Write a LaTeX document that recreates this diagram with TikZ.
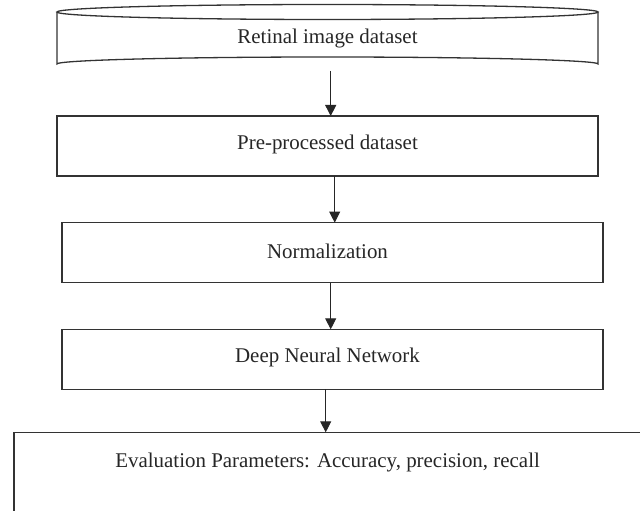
\documentclass[tikz,border=0pt]{standalone}
\usepackage{fontspec}
\setmainfont{Liberation Serif}
\usetikzlibrary{arrows.meta}
\definecolor{edge}{HTML}{333333}
\begin{document}
\begin{tikzpicture}[x=1bp,y=-1bp,
  boxstyle/.style={draw=edge,line width=1.3bp,rectangle,inner sep=0,outer sep=0,fill=white},
  lbl/.style={inner sep=0,outer sep=0,font=\fontsize{21}{25}\selectfont,text=black!85},
  flow/.style={draw=black!85,line width=0.9bp,-{Triangle[width=11bp,length=11bp]}}]
\useasboundingbox (0,0) rectangle (640,511);
\clip (0,0) rectangle (640,511);
\fill[white] (0,0) rectangle (640,511);
% cylinder
\node[inner sep=0,outer sep=0,minimum width=541bp,minimum height=59bp] (c1) at (327.5,41.5) {};
\draw[edge,line width=1.3bp] (57,12) -- (57,64) arc[start angle=180,end angle=0,x radius=270.5bp,y radius=7bp] -- (598,12);
\draw[edge,line width=1.3bp] (327.5,12) ellipse [x radius=270.5bp, y radius=7.5bp];
\node[lbl,anchor=base] (t1) at (327.5,43.3) {Retinal image dataset};
% boxes
\node[boxstyle,minimum width=541bp,minimum height=60bp] (b2) at (327.5,146) {};
\node[lbl] (t2) at (327.5,144.5) {Pre-processed dataset};
\node[boxstyle,minimum width=541bp,minimum height=60bp] (b3) at (332.5,252.6) {};
\node[lbl] (t3) at (327.5,251) {Normalization};
\node[boxstyle,minimum width=541bp,minimum height=60bp] (b4) at (332.5,359.3) {};
\node[lbl] (t4) at (327.5,357.5) {Deep Neural Network};
\node[boxstyle,minimum width=706bp,minimum height=128bp] (b5) at (367,496.3) {};
\node[lbl] (t5) at (327.6,462.5) {Evaluation Parameters: Accuracy, precision, recall};
% arrow columns
\coordinate (a1) at (330.7,0);
\coordinate (a2) at (334.7,0);
\coordinate (a3) at (330.7,0);
\coordinate (a4) at (325.7,0);
\draw[flow] (c1.south -| a1) -- (b2.north -| a1);
\draw[flow] (b2.south -| a2) -- (b3.north -| a2);
\draw[flow] (b3.south -| a3) -- (b4.north -| a3);
\draw[flow] (b4.south -| a4) -- (b5.north -| a4);
\end{tikzpicture}
\end{document}
